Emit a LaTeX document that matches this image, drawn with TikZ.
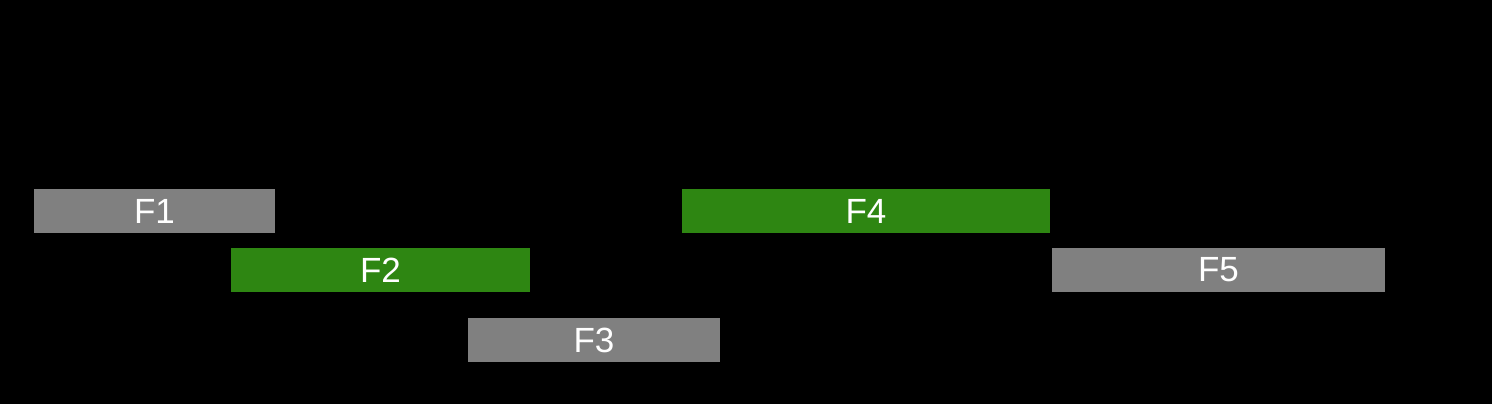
\documentclass[tikz,border=0pt]{standalone}
\usepackage{fontspec}
\setmainfont{Liberation Sans}
\definecolor{boxgray}{HTML}{808080}
\definecolor{boxgreen}{HTML}{2E8612}
\tikzset{
  bar/.style={inner sep=0pt, outer sep=0pt, text=white, font=\fontsize{35}{40}\selectfont, anchor=north west},
  graybar/.style={bar, fill=boxgray},
  greenbar/.style={bar, fill=boxgreen},
}
\begin{document}
\begin{tikzpicture}[x=1pt,y=-1pt]
\fill[black] (0,0) rectangle (1492,404);
\useasboundingbox (0,0) rectangle (1492,404);
\node[graybar, minimum width=241pt, minimum height=44pt] (F1) at (34,189) {F1};
\node[greenbar, minimum width=299pt, minimum height=44pt] (F2) at (231,248) {F2};
\node[graybar, minimum width=252pt, minimum height=44pt] (F3) at (468,318) {F3};
\node[greenbar, minimum width=368pt, minimum height=44pt] (F4) at (682,189) {F4};
\node[graybar, minimum width=333pt, minimum height=44pt] (F5) at (1052,248) {F5};
\end{tikzpicture}
\end{document}
